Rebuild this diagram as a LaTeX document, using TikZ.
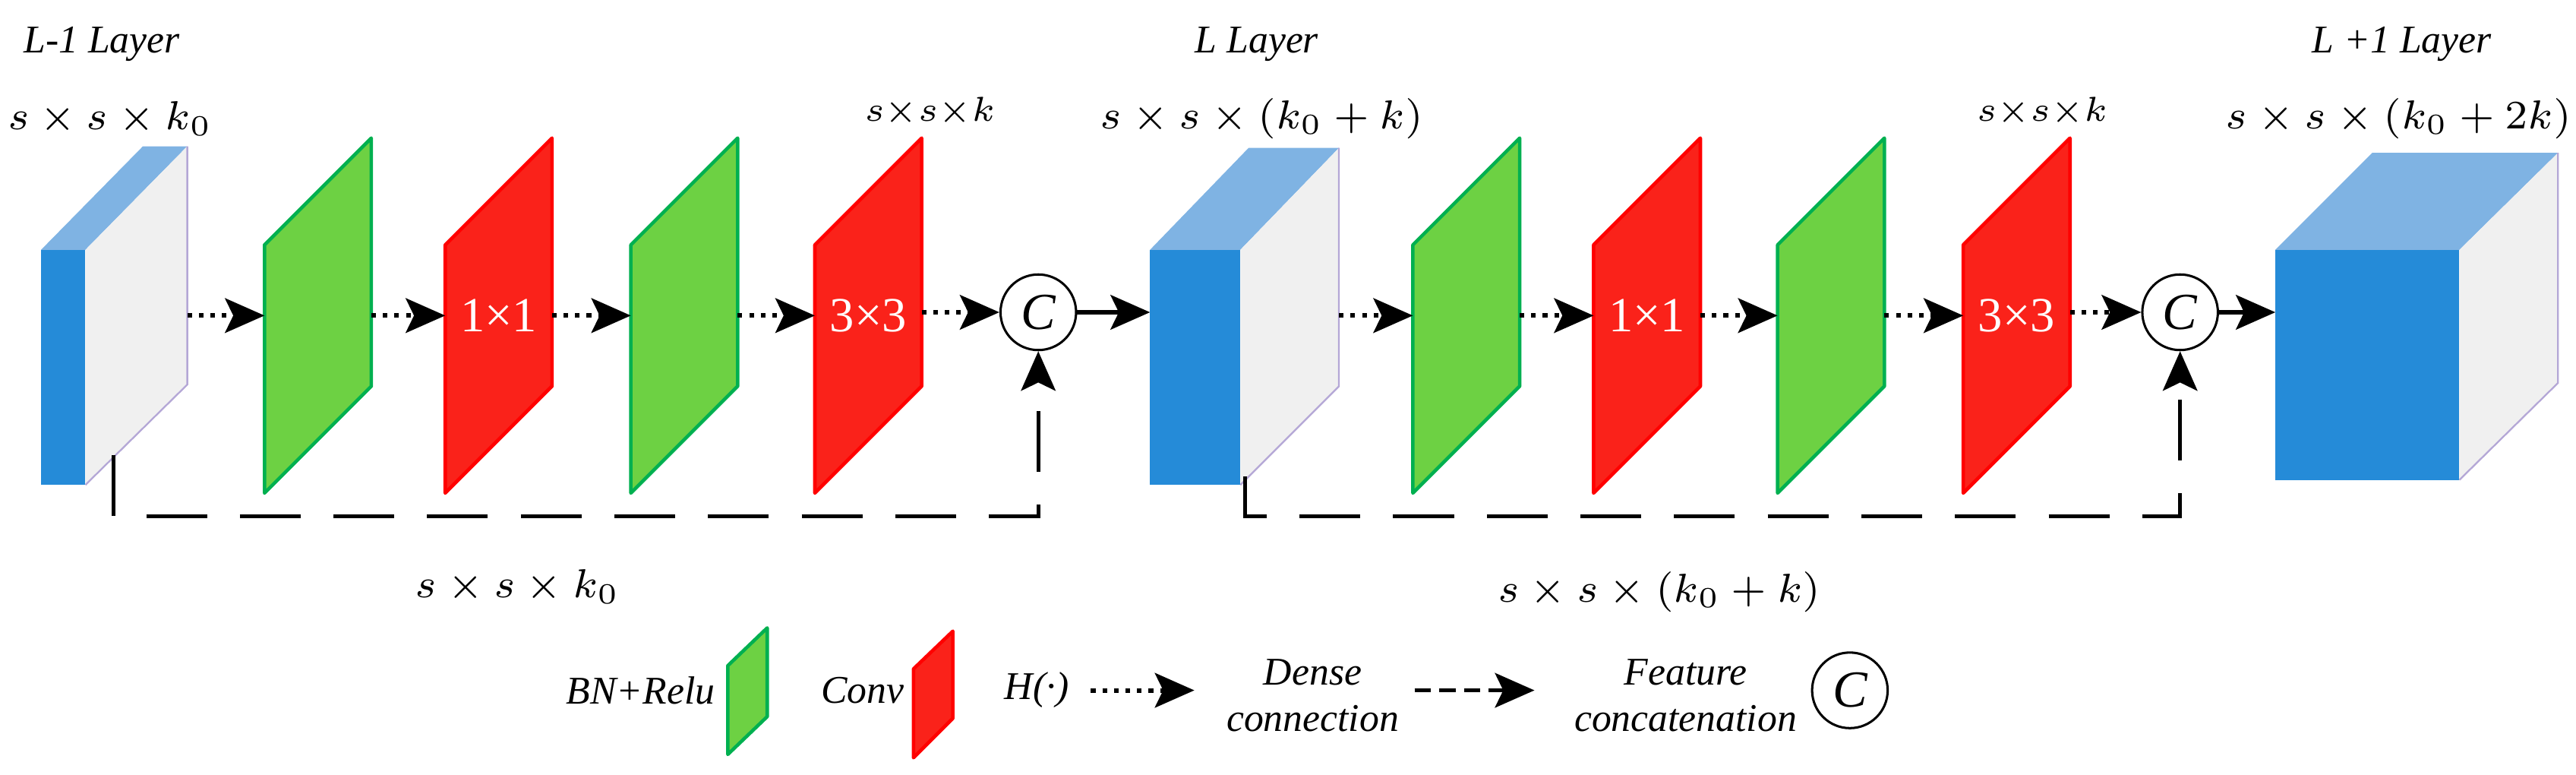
\documentclass[tikz,border=0pt]{standalone}
\usepackage{fontspec}
\setmainfont{Liberation Serif}
\newfontfamily\tms{Liberation Serif}
\usetikzlibrary{arrows.meta,calc}
\definecolor{gfill}{HTML}{6DD143}
\definecolor{gline}{HTML}{00B050}
\definecolor{rfill}{HTML}{FA221A}
\definecolor{rline}{HTML}{FF0000}
\definecolor{bfront}{HTML}{258BD8}
\definecolor{btop}{HTML}{7FB3E3}
\definecolor{bside}{HTML}{F0F0F0}
\definecolor{bedge}{HTML}{B4A7D6}
\tikzset{
  gplane/.style={fill=gfill,draw=gline,line width=0.6pt,line join=round},
  rplane/.style={fill=rfill,draw=rline,line width=0.6pt,line join=round},
  tip/.style={-{Stealth[length=0.24cm,width=0.21cm,inset=0.05cm]}},
  dense/.style={tip,line width=0.8pt,dash pattern=on 0.8pt off 1.2pt},
  feat/.style={tip,line width=0.7pt,dash pattern=on 0.37cm off 0.2cm},
  solidar/.style={tip,line width=0.8pt},
  cnode/.style={circle,draw,line width=0.4pt,minimum size=0.46cm,inner sep=0pt,font=\tms\fontsize{9}{9}\selectfont\itshape},
  lbl/.style={font=\tms\fontsize{6.8}{7}\selectfont\itshape},
  dim/.style={font=\fontsize{7.4}{9}\selectfont},
  sdim/.style={font=\fontsize{6.5}{7}\selectfont},
  conv/.style={text=white,font=\tms\fontsize{8.5}{9}\selectfont},
  leg/.style={font=\tms\fontsize{6.8}{8}\selectfont\itshape,align=center},
}
\newcommand\myplane[3]{%
  \draw[#1] (#2,-3.00) -- (#2,-1.49) -- ($(#2,-1.49)+(0.65,0.65)$) -- ($(#2,-3.00)+(0.65,0.65)$) -- cycle;
  \coordinate (#3l) at (#2,-1.92);
  \coordinate (#3r) at ($(#2,-1.92)+(0.65,0)$);
}
\begin{document}
\begin{tikzpicture}
\useasboundingbox (0,0) rectangle (15.68,-4.715);
% L-1 block
\fill[btop] (0.25,-1.52) -- (0.52,-1.52) -- (1.14,-0.89) -- (0.87,-0.89) -- cycle;
\fill[bside] (0.52,-1.52) -- (1.14,-0.89) -- (1.14,-2.34) -- (0.52,-2.95) -- cycle;
\draw[bedge,line width=0.3pt] (1.14,-0.89) -- (1.14,-2.34) -- (0.52,-2.95);
\fill[bfront] (0.25,-1.52) rectangle (0.52,-2.95);
\coordinate (b1r) at (1.14,-1.92);
\coordinate (b1d) at (0.69,-2.77);
% L block
\fill[btop] (7.00,-1.52) -- (7.55,-1.52) -- (8.15,-0.90) -- (7.60,-0.90) -- cycle;
\fill[bside] (7.55,-1.52) -- (8.15,-0.90) -- (8.15,-2.35) -- (7.55,-2.95) -- cycle;
\draw[bedge,line width=0.3pt] (8.15,-0.90) -- (8.15,-2.35) -- (7.55,-2.95);
\fill[bfront] (7.00,-1.52) rectangle (7.55,-2.95);
\coordinate (b2l) at (7.00,-1.90);
\coordinate (b2r) at (8.15,-1.92);
\coordinate (b2d) at (7.58,-2.90);
% L+1 block
\fill[btop] (13.85,-1.52) -- (14.97,-1.52) -- (15.57,-0.93) -- (14.44,-0.93) -- cycle;
\fill[bside] (14.97,-1.52) -- (15.57,-0.93) -- (15.57,-2.33) -- (14.97,-2.92) -- cycle;
\draw[bedge,line width=0.3pt] (15.57,-0.93) -- (15.57,-2.33) -- (14.97,-2.92);
\fill[bfront] (13.85,-1.52) rectangle (14.97,-2.92);
\coordinate (b3l) at (13.85,-1.90);
% planes
\myplane{gplane}{1.61}{p1}
\myplane{rplane}{2.71}{p2}
\myplane{gplane}{3.84}{p3}
\myplane{rplane}{4.96}{p4}
\myplane{gplane}{8.60}{q1}
\myplane{rplane}{9.70}{q2}
\myplane{gplane}{10.82}{q3}
\myplane{rplane}{11.95}{q4}
\node[conv] (t1) at ($(p2l)+(0.325,0)$) {1×1};
\node[conv] (t2) at ($(p4l)+(0.325,0)$) {3×3};
\node[conv] (t3) at ($(q2l)+(0.325,0)$) {1×1};
\node[conv] (t4) at ($(q4l)+(0.325,0)$) {3×3};
% concat nodes
\node[cnode] (c1) at (6.32,-1.90) {C};
\node[cnode] (c2) at (13.27,-1.90) {C};
% dense arrows
\draw[dense] (b1r) -- (p1l);
\draw[dense] (p1r) -- (p2l);
\draw[dense] (p2r) -- (p3l);
\draw[dense] (p3r) -- (p4l);
\draw[dense] (p4r |- c1) -- (c1);
\draw[solidar] (c1) -- (b2l);
\draw[dense] (b2r) -- (q1l);
\draw[dense] (q1r) -- (q2l);
\draw[dense] (q2r) -- (q3l);
\draw[dense] (q3r) -- (q4l);
\draw[dense] (q4r |- c2) -- (c2);
\draw[solidar] (c2) -- (b3l);
% feature arrows
\coordinate (f1a) at (0.69,-3.14);
\coordinate (f1b) at (6.32,-3.14);
\draw[feat] (b1d) -- (f1a) -- (f1b) -- (c1);
\coordinate (f2a) at (7.58,-3.14);
\coordinate (f2b) at (13.27,-3.14);
\draw[feat] (b2d) -- (f2a) -- (f2b) -- (c2);
% labels
\node[lbl] (l1) at (0.62,-0.27) {L-1 Layer};
\node[lbl] (l2) at (7.65,-0.27) {L Layer};
\node[lbl] (l3) at (14.62,-0.27) {L +1 Layer};
\node[dim] (d1) at (0.67,-0.72) {$s\times s\times k_0$};
\node[sdim] (d2) at (5.66,-0.68) {$s{\times}s{\times}k$};
\node[dim] (d3) at (7.68,-0.72) {$s\times s\times (k_0+k)$};
\node[sdim] (d4) at (12.43,-0.68) {$s{\times}s{\times}k$};
\node[dim] (d5) at (14.60,-0.72) {$s\times s\times (k_0+2k)$};
\node[dim] (d6) at (3.15,-3.57) {$s\times s\times k_0$};
\node[dim] (d7) at (10.10,-3.60) {$s\times s\times (k_0+k)$};
% legend
\node[leg] (g1) at (3.90,-4.20) {BN+Relu};
\draw[gplane] (4.43,-4.59) -- (4.43,-4.05) -- (4.67,-3.82) -- (4.67,-4.36) -- cycle;
\node[leg] (g2) at (5.25,-4.20) {Conv};
\draw[rplane] (5.56,-4.61) -- (5.56,-4.07) -- (5.80,-3.84) -- (5.80,-4.37) -- cycle;
\node[leg] (g3) at (6.31,-4.20) {H(·)};
\coordinate (h1) at (6.64,-4.20);
\coordinate (h2) at (7.27,-4.20);
\draw[dense] (h1) -- (h2);
\node[leg] (g4) at (7.99,-4.23) {Dense\\connection};
\coordinate (k1) at (8.61,-4.20);
\coordinate (k2) at (9.34,-4.20);
\draw[tip,line width=0.7pt,dash pattern=on 0.1cm off 0.05cm] (k1) -- (k2);
\node[leg] (g5) at (10.26,-4.23) {Feature\\concatenation};
\node[cnode] (g6) at (11.26,-4.20) {C};
\end{tikzpicture}
\end{document}
